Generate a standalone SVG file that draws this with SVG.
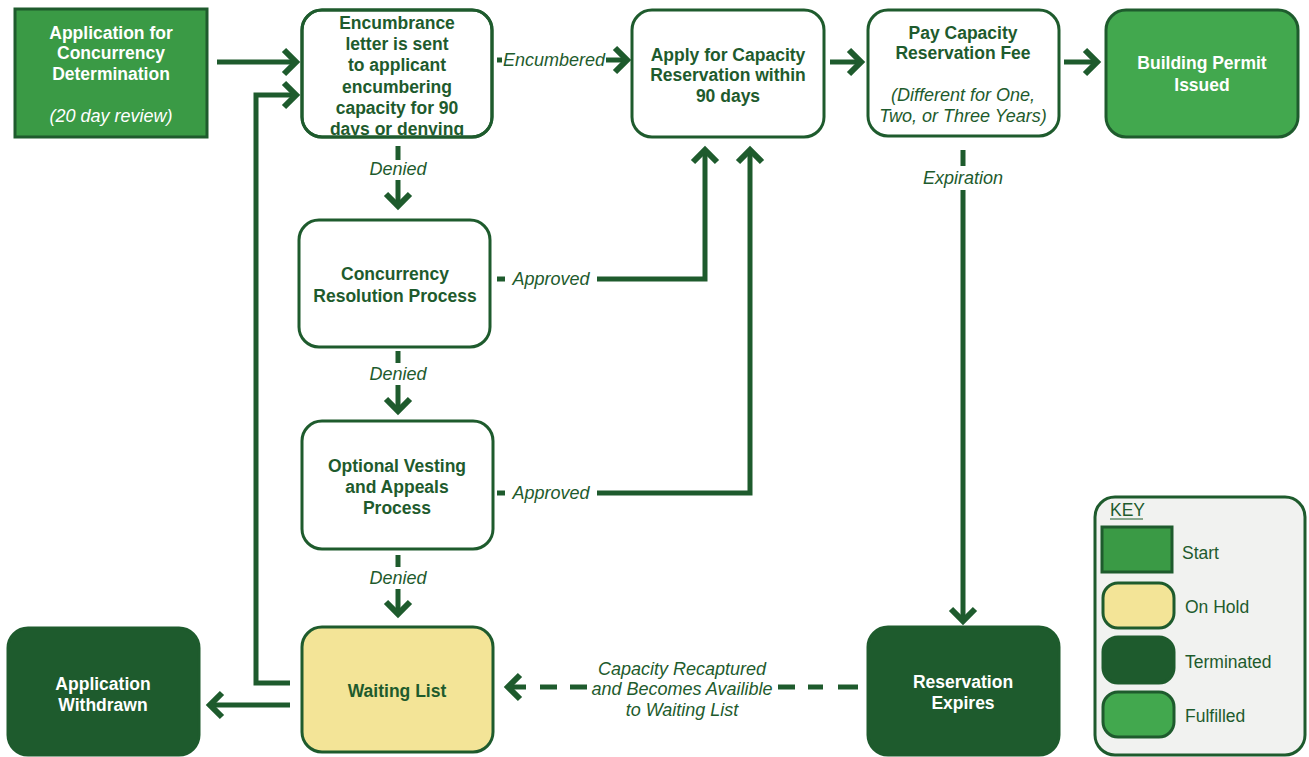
<svg xmlns="http://www.w3.org/2000/svg" width="1309" height="757" viewBox="0 0 1309 757">
<defs>
<style>
.box{fill:#ffffff;stroke:#1e5b2d;stroke-width:3}
.out{fill:none;stroke:#1e5b2d;stroke-width:3}
.start{fill:#3a9a45;stroke:#1e5b2d;stroke-width:3}
.full{fill:#42a84e;stroke:#1e5b2d;stroke-width:3}
.term{fill:#1e5b2d;stroke:#1e5b2d;stroke-width:3}
.hold{fill:#f3e497;stroke:#1e5b2d;stroke-width:3}
.t{font-family:"Liberation Sans",Arial,sans-serif;font-weight:bold;font-size:17.5px;fill:#1e5b2d;text-anchor:middle}
.tw{font-family:"Liberation Sans",Arial,sans-serif;font-weight:bold;font-size:17.5px;fill:#ffffff;text-anchor:middle}
.i{font-family:"Liberation Sans",Arial,sans-serif;font-style:italic;font-size:18px;fill:#1e5b2d;text-anchor:middle}
.iw{font-family:"Liberation Sans",Arial,sans-serif;font-style:italic;font-size:18px;fill:#ffffff;text-anchor:middle}
.k{font-family:"Liberation Sans",Arial,sans-serif;font-size:17.5px;fill:#1e5b2d}
.ln{fill:none;stroke:#1e5b2d;stroke-width:5}
</style>
<marker id="ah" markerWidth="24" markerHeight="30" refX="18" refY="15" orient="auto" markerUnits="userSpaceOnUse">
<path d="M6,3 L18,15 L6,27" fill="none" stroke="#1e5b2d" stroke-width="6"/>
</marker>
<clipPath id="encClip"><rect x="302" y="10" width="190" height="125.5"/></clipPath>
</defs>
<rect width="1309" height="757" fill="#ffffff"/>

<g id="connectors">
<line class="ln" x1="217" y1="62" x2="296" y2="62" marker-end="url(#ah)"/>
<polyline class="ln" points="290,683 256,683 256,95 296,95" stroke-width="4" marker-end="url(#ah)"/>
<line class="ln" x1="497" y1="60" x2="502" y2="60"/>
<line class="ln" x1="606" y1="60" x2="627" y2="60" marker-end="url(#ah)"/>
<text class="i" x="554" y="66">Encumbered</text>
<line class="ln" x1="830" y1="62" x2="861" y2="62" marker-end="url(#ah)"/>
<line class="ln" x1="1064" y1="62" x2="1097" y2="62" marker-end="url(#ah)"/>

<line class="ln" x1="398" y1="146" x2="398" y2="160"/>
<text class="i" x="398" y="175">Denied</text>
<line class="ln" x1="398" y1="180" x2="398" y2="206" marker-end="url(#ah)"/>

<line class="ln" x1="497" y1="279" x2="505" y2="279"/>
<text class="i" x="551" y="285">Approved</text>
<polyline class="ln" points="597,279 705,279 705,150" marker-end="url(#ah)"/>

<line class="ln" x1="398" y1="351" x2="398" y2="363"/>
<text class="i" x="398" y="380">Denied</text>
<line class="ln" x1="398" y1="385" x2="398" y2="411" marker-end="url(#ah)"/>

<line class="ln" x1="497" y1="493" x2="505" y2="493"/>
<text class="i" x="551" y="499">Approved</text>
<polyline class="ln" points="597,493 750,493 750,150" marker-end="url(#ah)"/>

<line class="ln" x1="398" y1="555" x2="398" y2="567"/>
<text class="i" x="398" y="584">Denied</text>
<line class="ln" x1="398" y1="589" x2="398" y2="614" marker-end="url(#ah)"/>

<line class="ln" x1="290" y1="705" x2="210" y2="705" stroke-width="4" marker-end="url(#ah)"/>

<line class="ln" x1="963" y1="150" x2="963" y2="166"/>
<text class="i" x="963" y="184">Expiration</text>
<line class="ln" x1="963" y1="190" x2="963" y2="621" stroke-width="4" marker-end="url(#ah)"/>

<line class="ln" x1="858" y1="687" x2="838" y2="687"/>
<line class="ln" x1="823" y1="687" x2="808" y2="687"/>
<line class="ln" x1="795" y1="687" x2="778" y2="687"/>
<line class="ln" x1="587" y1="687" x2="570" y2="687"/>
<line class="ln" x1="557" y1="687" x2="540" y2="687"/>
<line class="ln" x1="526" y1="687" x2="508" y2="687" marker-end="url(#ah)"/>
<text class="i" x="682" y="675">Capacity Recaptured</text>
<text class="i" x="682" y="695">and Becomes Availible</text>
<text class="i" x="682" y="716">to Waiting List</text>
</g>

<g id="n_application">
<rect class="start" x="15" y="9" width="192" height="128"/>
<text class="tw" x="111" y="39">Application for</text>
<text class="tw" x="111" y="59">Concurrency</text>
<text class="tw" x="111" y="80">Determination</text>
<text class="iw" x="111" y="122">(20 day review)</text>
</g>

<g id="n_encumbrance">
<rect class="box" x="302" y="10" width="190" height="127" rx="20"/>
<g clip-path="url(#encClip)">
<text class="t" x="397" y="29">Encumbrance</text>
<text class="t" x="397" y="50">letter is sent</text>
<text class="t" x="397" y="71">to applicant</text>
<text class="t" x="397" y="93">encumbering</text>
<text class="t" x="397" y="114">capacity for 90</text>
<text class="t" x="397" y="135">days or denying</text>
</g>
<rect class="out" x="302" y="10" width="190" height="127" rx="20"/>
</g>

<g id="n_apply">
<rect class="box" x="632" y="10" width="192" height="127" rx="20"/>
<text class="t" x="728" y="61">Apply for Capacity</text>
<text class="t" x="728" y="81">Reservation within</text>
<text class="t" x="728" y="102">90 days</text>
</g>

<g id="n_pay">
<rect class="box" x="868" y="10" width="191" height="126" rx="20"/>
<text class="t" x="963" y="39">Pay Capacity</text>
<text class="t" x="963" y="59">Reservation Fee</text>
<text class="i" x="963" y="101">(Different for One,</text>
<text class="i" x="963" y="122">Two, or Three Years)</text>
</g>

<g id="n_permit">
<rect class="full" x="1106" y="10" width="192" height="127" rx="20"/>
<text class="tw" x="1202" y="69">Building Permit</text>
<text class="tw" x="1202" y="91">Issued</text>
</g>

<g id="n_resolution">
<rect class="box" x="299" y="220" width="191" height="127" rx="20"/>
<text class="t" x="395" y="280">Concurrency</text>
<text class="t" x="395" y="302">Resolution Process</text>
</g>

<g id="n_vesting">
<rect class="box" x="302" y="421" width="191" height="128" rx="20"/>
<text class="t" x="397" y="472">Optional Vesting</text>
<text class="t" x="397" y="493">and Appeals</text>
<text class="t" x="397" y="514">Process</text>
</g>

<g id="n_waiting">
<rect class="hold" x="302" y="627" width="191" height="125" rx="20"/>
<text class="t" x="397" y="697">Waiting List</text>
</g>

<g id="n_withdrawn">
<rect class="term" x="8" y="628" width="191" height="127" rx="20"/>
<text class="tw" x="103" y="690">Application</text>
<text class="tw" x="103" y="711">Withdrawn</text>
</g>

<g id="n_expires">
<rect class="term" x="868" y="627" width="191" height="128" rx="20"/>
<text class="tw" x="963" y="688">Reservation</text>
<text class="tw" x="963" y="709">Expires</text>
</g>

<g id="key">
<rect x="1095" y="497" width="210" height="258" rx="20" fill="#f1f2f0" stroke="#1e5b2d" stroke-width="3"/>
<text class="k" x="1110" y="516">KEY</text>
<line x1="1110" y1="519" x2="1143" y2="519" stroke="#1e5b2d" stroke-width="1.2"/>
<rect class="start" x="1102" y="527" width="70" height="45"/>
<text class="k" x="1182" y="559">Start</text>
<rect class="hold" x="1103" y="583" width="71" height="45" rx="15"/>
<text class="k" x="1185" y="613">On Hold</text>
<rect class="term" x="1103" y="637" width="71" height="46" rx="15"/>
<text class="k" x="1185" y="668">Terminated</text>
<rect class="full" x="1103" y="692" width="71" height="45" rx="15"/>
<text class="k" x="1185" y="722">Fulfilled</text>
</g>
</svg>
